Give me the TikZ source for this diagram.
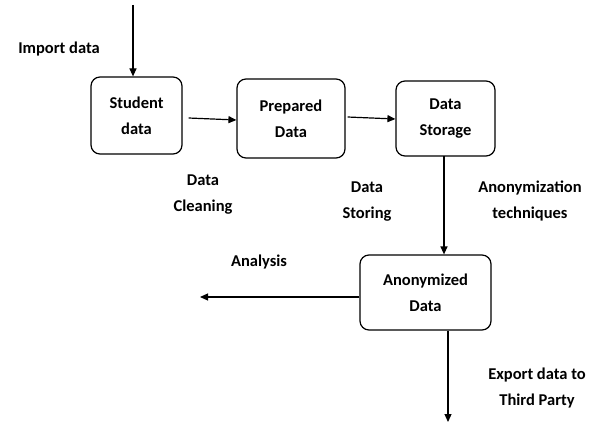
\documentclass[tikz,border=0pt]{standalone}
\usepackage{fontspec}
\setmainfont{Carlito}
\usetikzlibrary{arrows.meta,calc}
\begin{document}
\begin{tikzpicture}[x=1pt,y=-1pt,
  box/.style={draw,line width=1.2pt,rounded corners=9pt,align=center,inner sep=0pt,font=\bfseries\fontsize{16.5}{26}\selectfont},
  lbl/.style={align=center,inner sep=0pt,font=\bfseries\fontsize{16.5}{26}\selectfont},
  arr/.style={line width=1.2pt,-{Triangle[length=8pt,width=7pt]}}]
\fill[white] (0,0) rectangle (601,425);
\useasboundingbox (0,0) rectangle (601,425);
\node[box,minimum width=91pt,minimum height=77pt] (stud) at (136.5,115.5) {Student\\data};
\node[box,minimum width=108pt,minimum height=79pt] (prep) at (291,118.5) {Prepared\\Data};
\node[box,minimum width=99pt,minimum height=75pt] (stor) at (445.5,118.5) {Data\\Storage};
\node[box,minimum width=131pt,minimum height=75pt] (anon) at (425.5,292.5) {Anonymized\\Data};
\coordinate (imp) at (133,5);
\coordinate (ana) at (200,297);
\coordinate (exp) at (448,422);
\coordinate (dwn) at (444,156);
\draw[arr] (imp) -- (imp |- stud.north);
\draw[arr] ($(stud.east)+(6,2.5)$) -- ($(prep.west)+(0,1.5)$);
\draw[arr] ($(prep.east)+(2,-1.5)$) -- ($(stor.west)+(0,0.5)$);
\draw[arr] (dwn) -- (dwn |- anon.north);
\draw[arr] ($(anon.west)+(0,4.5)$) -- (ana);
\draw[arr] (exp |- anon.south) -- (exp);
\node[lbl] (limp) at (59,49) {Import data};
\node[lbl] (lcln) at (203,195) {Data\\Cleaning};
\node[lbl] (lsto) at (367,202) {Data\\Storing};
\node[lbl] (lano) at (530,201) {Anonymization\\techniques};
\node[lbl] (lana) at (259,262) {Analysis};
\node[lbl] (lexp) at (537,388) {Export data to\\Third Party};
\end{tikzpicture}
\end{document}
